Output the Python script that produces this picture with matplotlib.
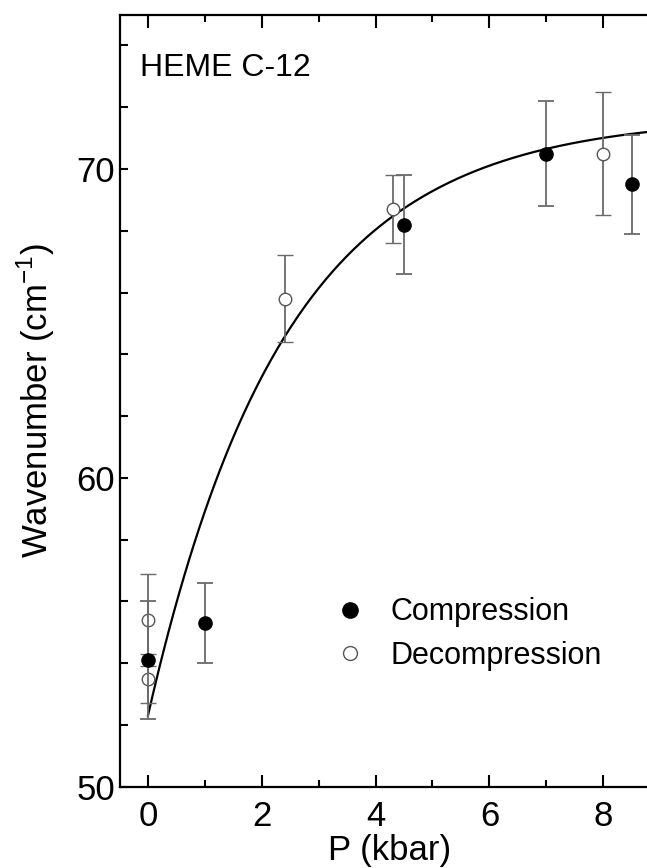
import numpy as np
import matplotlib
matplotlib.use("Agg")
import matplotlib.pyplot as plt
from matplotlib.lines import Line2D
from matplotlib.ticker import MultipleLocator

plt.rcParams['font.family'] = ['Liberation Sans', 'DejaVu Sans']

# Data
comp_p = [0.0, 1.0, 4.5, 7.0, 8.5]
comp_w = [54.1, 55.3, 68.2, 70.5, 69.5]
comp_err = [1.9, 1.3, 1.6, 1.7, 1.6]

decomp_p = [0.0, 0.0, 2.4, 4.3, 8.0]
decomp_w = [55.4, 53.5, 65.8, 68.7, 70.5]
decomp_err = [1.5, 0.8, 1.4, 1.1, 2.0]

# Fit curve parameters: w = A - B*exp(-P/tau)
fit_A = 71.7
fit_B = 19.4
fit_tau = 2.4

fig = plt.figure(figsize=(6.47, 8.68), dpi=100)
x_right_px = 148 + 9.0 * 56.9
ax = fig.add_axes([119.5/647, 81.4/868, (x_right_px-119.5)/647, (786.6-14.6)/868])

pp = np.linspace(0, 9.0, 300)
ax.plot(pp, fit_A - fit_B*np.exp(-pp/fit_tau), color='black', lw=1.6, zorder=2)

ecol = '#6a6a6a'
ax.errorbar(decomp_p, decomp_w, yerr=decomp_err, fmt='o', ms=9, mfc='white', mec='#555555',
            mew=1.0, ecolor=ecol, elinewidth=1.3, capsize=5.5, capthick=1.3, zorder=3)
ax.errorbar(comp_p, comp_w, yerr=comp_err, fmt='o', ms=9.5, mfc='black', mec='black',
            ecolor=ecol, elinewidth=1.3, capsize=5.5, capthick=1.3, zorder=4)

ax.set_xlim(-0.5, 9.0)
ax.set_ylim(50, 75)
ax.xaxis.set_major_locator(MultipleLocator(2))
ax.xaxis.set_minor_locator(MultipleLocator(1))
ax.yaxis.set_major_locator(MultipleLocator(10))
ax.yaxis.set_minor_locator(MultipleLocator(2))
ax.tick_params(which='both', direction='in', top=True, right=True, width=1.5, labelsize=25)
ax.tick_params(axis='x', which='major', length=9)
ax.tick_params(axis='x', which='minor', length=5)
ax.tick_params(axis='y', which='major', length=5.5)
ax.tick_params(axis='y', which='minor', length=5.5)
ax.tick_params(axis='x', pad=9.5)
ax.tick_params(axis='y', pad=3)
for s in ax.spines.values():
    s.set_linewidth(1.6)

ax.set_xlabel('P (kbar)', fontsize=25, labelpad=1)
ax.set_ylabel('Wavenumber (cm$^{\\mathregular{-1}}$)', fontsize=25, labelpad=14)

fig.text(140/647, 1 - 68/868, 'HEME C-12', fontsize=23, va='center')

handles = [Line2D([], [], ls='none', marker='o', ms=11, mfc='black', mec='black'),
           Line2D([], [], ls='none', marker='o', ms=10, mfc='white', mec='#555555', mew=1.0)]
ax.legend(handles, ['Compression', 'Decompression'], loc='upper left',
          bbox_to_anchor=(319/647, 1 - 582/868), bbox_transform=fig.transFigure,
          frameon=False, fontsize=22, handletextpad=0.85, labelspacing=0.45,
          handlelength=1.0, borderpad=0)

fig.savefig('out.png', dpi=100)
